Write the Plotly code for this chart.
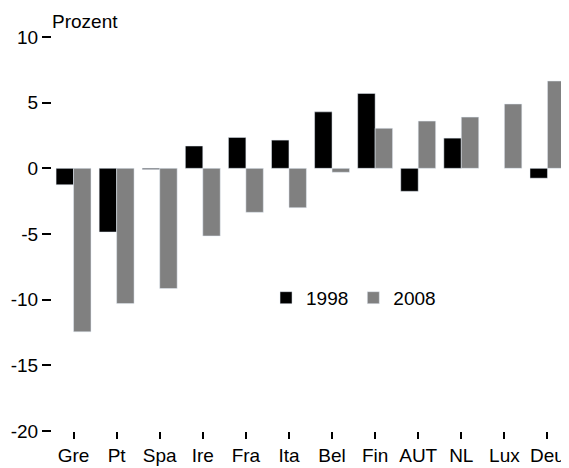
import plotly.graph_objs as go

countries = ["Gre", "Pt", "Spa", "Ire", "Fra", "Ita", "Bel", "Fin", "AUT", "NL", "Lux", "Deu"]
y1998 = [-1.25, -4.85, -0.08, 1.7, 2.35, 2.15, 4.3, 5.7, -1.75, 2.3, None, -0.75]
y2008 = [-12.45, -10.3, -9.15, -5.15, -3.35, -3.0, -0.3, 3.05, 3.6, 3.9, 4.9, 6.65]
ytick_vals = [-20, -15, -10, -5, 0, 5, 10]
ytick_text = ["-20", "-15", "-10", "-5", "0", "5", "10"]

font = dict(family="Liberation Sans, Arial", size=19, color="black")

fig = go.Figure()
fig.add_trace(go.Bar(x=countries, y=y1998, name="1998", marker=dict(color="black")))
fig.add_trace(go.Bar(x=countries, y=y2008, name="2008", marker=dict(color="#808080")))

# page body has an 8px margin, so the figure is 8px smaller than the window
fig.update_layout(
    width=561, height=460,
    margin=dict(l=44, r=0, t=29, b=37),
    paper_bgcolor="white", plot_bgcolor="white",
    font=font,
    barmode="group", bargap=0.19, bargroupgap=0,
    showlegend=True,
    legend=dict(orientation="h", x=0.414, y=0.338, xanchor="left", yanchor="middle",
                bgcolor="rgba(0,0,0,0)", font=font, itemwidth=30),
    annotations=[dict(text="Prozent", xref="paper", yref="paper", x=0, y=1,
                      xanchor="left", yanchor="bottom", showarrow=False, font=font,
                      xshift=-2, yshift=3)],
)
fig.update_yaxes(range=[-20, 10], tickvals=ytick_vals, ticktext=ytick_text,
                 ticks="outside", ticklen=9, tickwidth=2, tickcolor="black",
                 showgrid=False, zeroline=False, showline=False)
fig.update_xaxes(ticks="outside", ticklen=7, tickwidth=2, tickcolor="black",
                 showgrid=False, zeroline=False, showline=False,
                 range=[-0.5, 11.5])

fig.write_html("out.html")
